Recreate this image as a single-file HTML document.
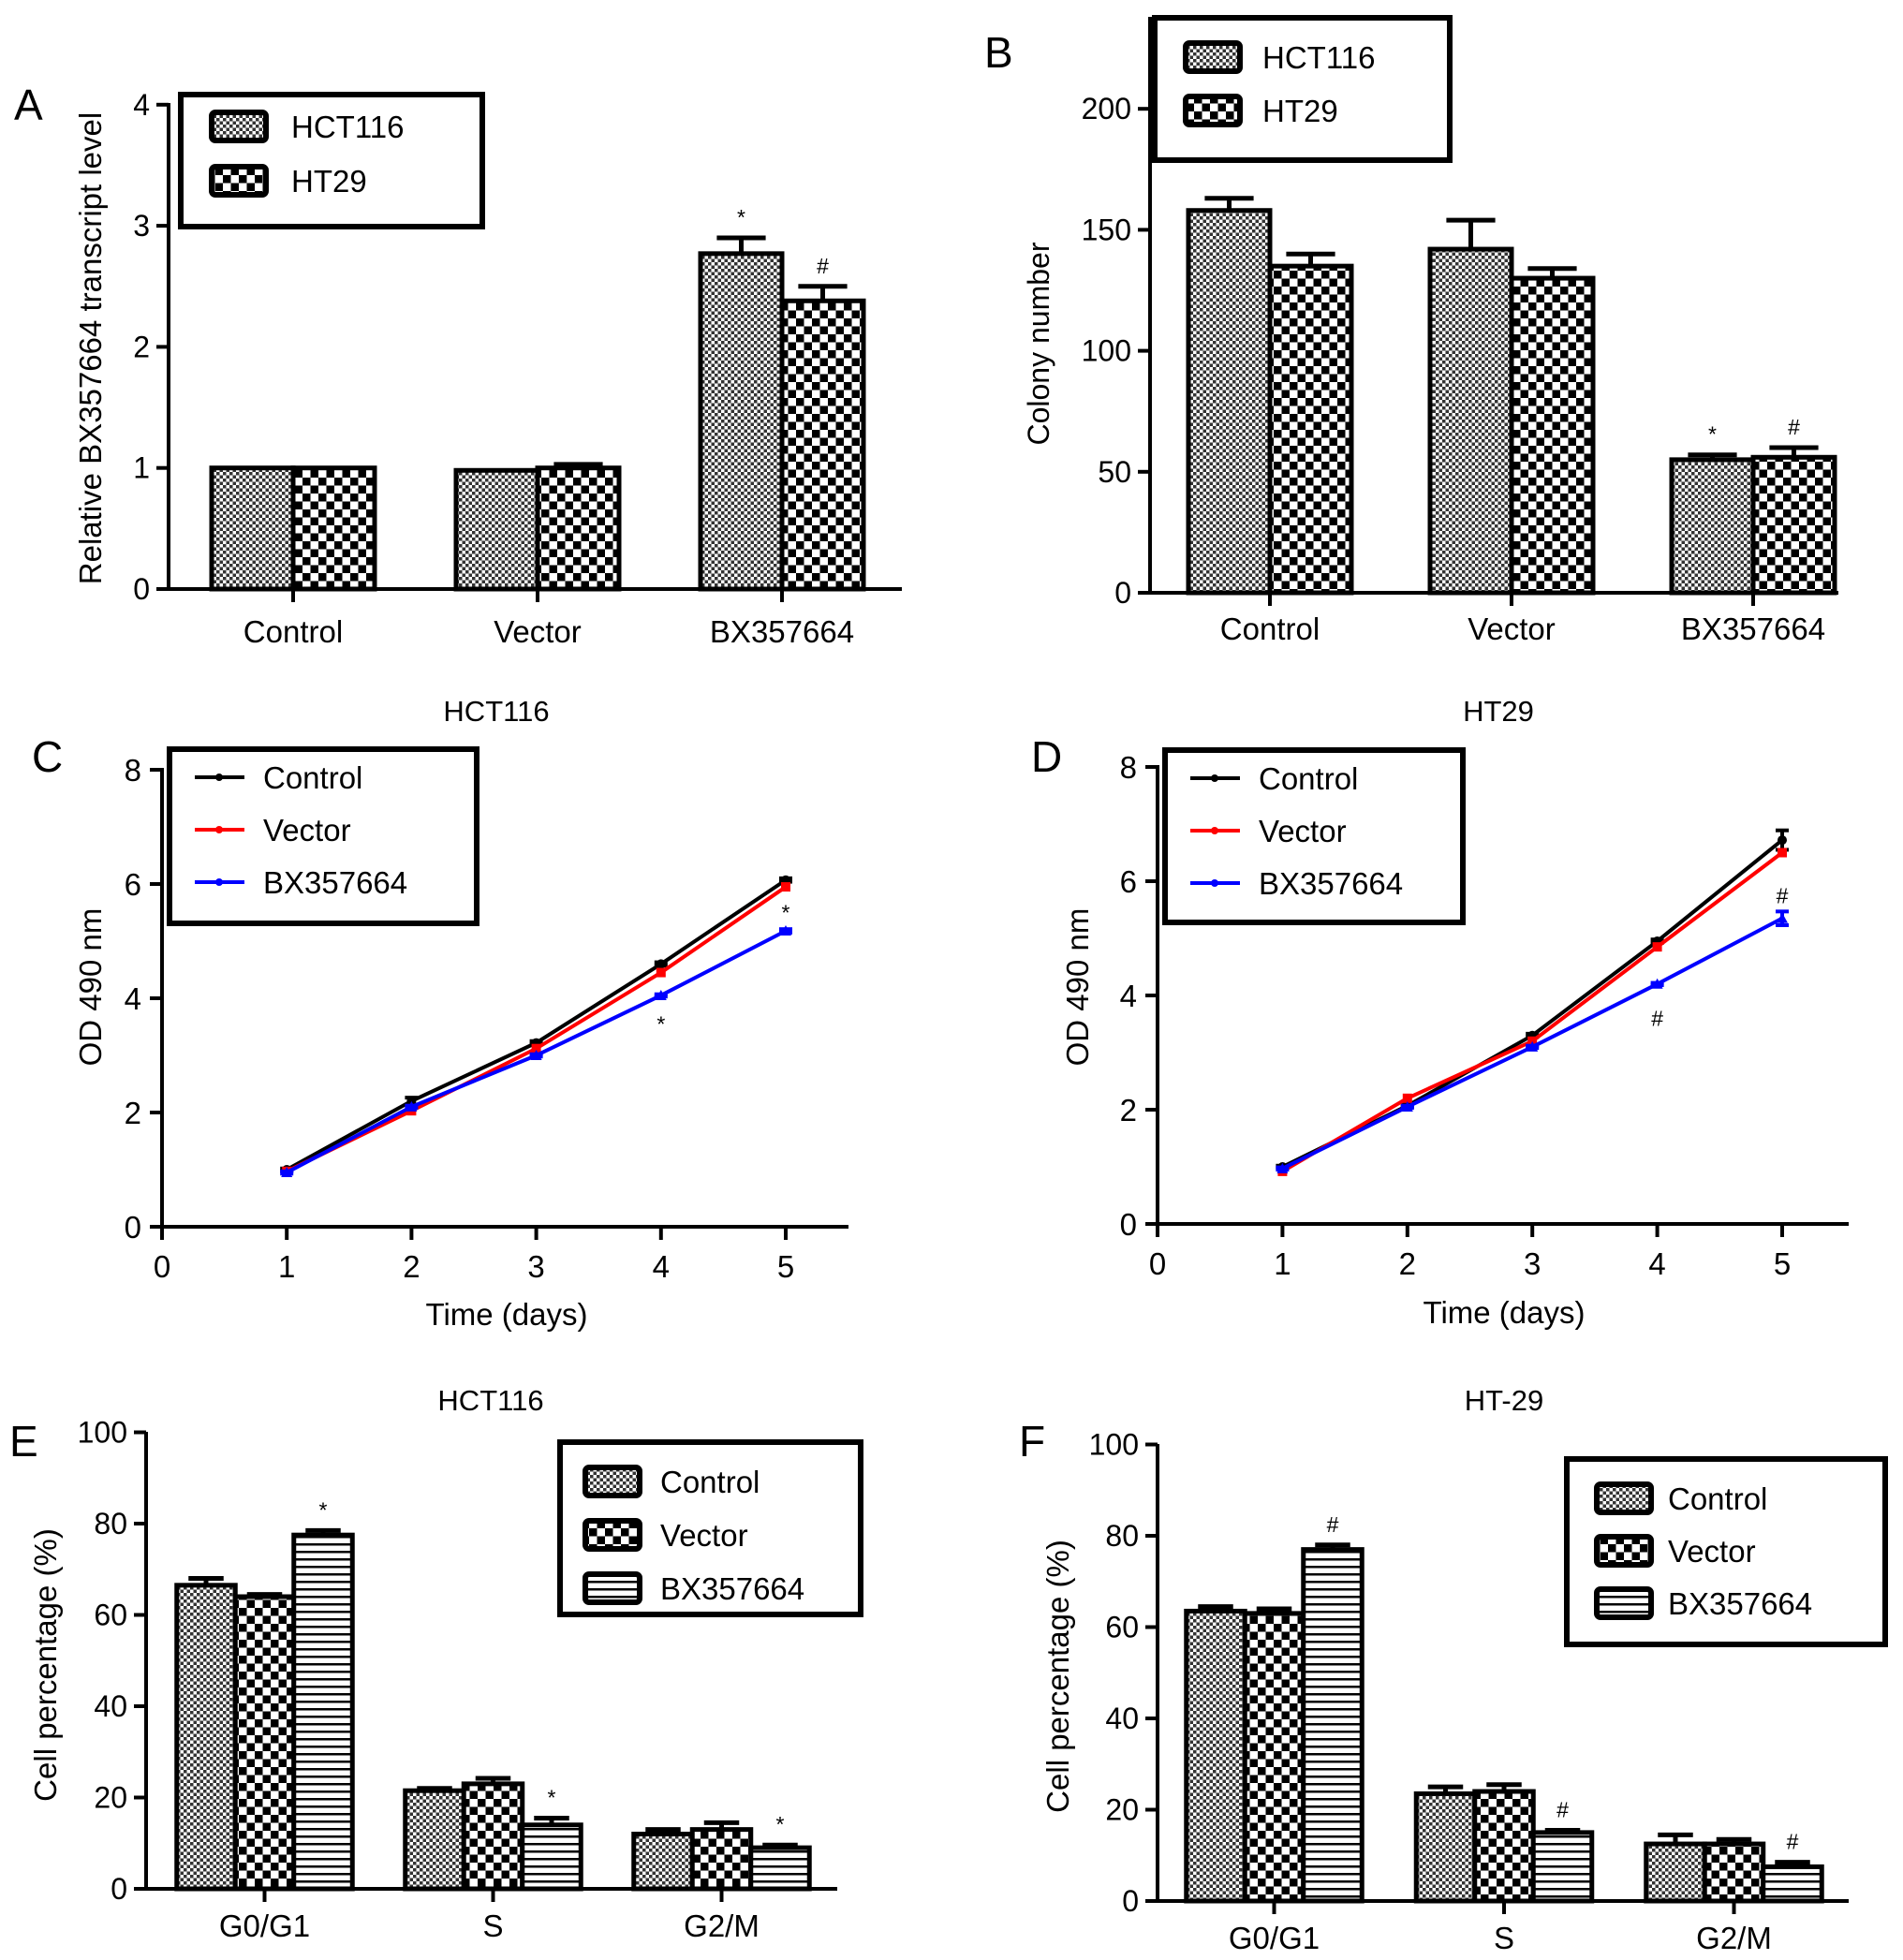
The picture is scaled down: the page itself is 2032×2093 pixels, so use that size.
<!DOCTYPE html>
<html><head><meta charset="utf-8">
<style>
html,body{margin:0;padding:0;background:#fff;}
svg{display:block;font-family:"Liberation Sans",Arial,sans-serif;}
</style></head>
<body>
<svg id="fig" width="2032" height="2093" viewBox="0 0 2032 2093" xmlns="http://www.w3.org/2000/svg">
<defs>
<pattern id="pFine" patternUnits="userSpaceOnUse" width="7" height="7">
<rect width="7" height="7" fill="#fff"/><rect width="3.5" height="3.5" fill="#333"/><rect x="3.5" y="3.5" width="3.5" height="3.5" fill="#333"/>
</pattern>
<pattern id="pCoarse" patternUnits="userSpaceOnUse" width="17" height="17">
<rect width="17" height="17" fill="#fff"/><rect width="8.5" height="8.5" fill="#000"/><rect x="8.5" y="8.5" width="8.5" height="8.5" fill="#000"/>
</pattern>
<pattern id="pStripe" patternUnits="userSpaceOnUse" width="8" height="8">
<rect width="8" height="8" fill="#fff"/><rect y="0" width="8" height="2.5" fill="#000"/>
</pattern>
</defs>
</svg>
<script>
// ---------- Panel A data ----------
const A_categories = ['Control','Vector','BX357664'];
const A_hct = [1.0, 0.98, 2.77];
const A_hct_err = [0.0, 0.0, 0.13];
const A_ht = [1.0, 1.0, 2.38];
const A_ht_err = [0.0, 0.03, 0.12];
const A_ticks = [0,1,2,3,4];
const A_marks_hct = ['', '', '*'];
const A_marks_ht = ['', '', '#'];
// ---------- Panel B data ----------
const B_categories = ['Control','Vector','BX357664'];
const B_hct = [158, 142, 55];
const B_hct_err = [5, 12, 2];
const B_ht = [135, 130, 56];
const B_ht_err = [5, 4, 4];
const B_ticks = [0,50,100,150,200];
const B_marks_hct = ['', '', '*'];
const B_marks_ht = ['', '', '#'];
// ---------- Panel C data ----------
const C_days = [1,2,3,4,5];
const C_control = [1.0, 2.2, 3.22, 4.6, 6.07];
const C_vector = [0.97, 2.03, 3.12, 4.45, 5.95];
const C_bx = [0.95, 2.1, 3.0, 4.05, 5.18];
const C_control_err = [0.02, 0.06, 0.03, 0.03, 0.03];
const C_bx_err = [0.02, 0.02, 0.02, 0.02, 0.03];
const C_xticks = [0,1,2,3,4,5];
const C_yticks = [0,2,4,6,8];
// ---------- Panel D data ----------
const D_days = [1,2,3,4,5];
const D_control = [1.0, 2.07, 3.3, 4.95, 6.72];
const D_vector = [0.92, 2.2, 3.2, 4.85, 6.5];
const D_bx = [0.97, 2.05, 3.1, 4.2, 5.35];
const D_control_err = [0.02, 0.02, 0.03, 0.03, 0.17];
const D_bx_err = [0.02, 0.02, 0.02, 0.02, 0.12];
const D_xticks = [0,1,2,3,4,5];
const D_yticks = [0,2,4,6,8];
// ---------- Panel E data ----------
const E_categories = ['G0/G1','S','G2/M'];
const E_control = [66.5, 21.5, 12];
const E_control_err = [1.5, 0.5, 1];
const E_vector = [64, 23, 13];
const E_vector_err = [0.5, 1.2, 1.5];
const E_bx = [77.5, 14, 9];
const E_bx_err = [1, 1.5, 0.6];
const E_ticks = [0,20,40,60,80,100];
const E_marks = ['*','*','*'];
// ---------- Panel F data ----------
const F_categories = ['G0/G1','S','G2/M'];
const F_control = [63.5, 23.5, 12.5];
const F_control_err = [1, 1.5, 2];
const F_vector = [63, 24, 12.5];
const F_vector_err = [1, 1.5, 1];
const F_bx = [77, 15, 7.5];
const F_bx_err = [1, 0.5, 1];
const F_ticks = [0,20,40,60,80,100];
const F_marks = ['#','#','#'];

const NS = 'http://www.w3.org/2000/svg';
const svg = document.getElementById('fig');
function el(tag, attrs, parent){
  const e = document.createElementNS(NS, tag);
  for (const k in attrs) e.setAttribute(k, attrs[k]);
  (parent||svg).appendChild(e);
  return e;
}
function txt(str, attrs, parent){
  const t = el('text', attrs, parent);
  t.textContent = str;
  return t;
}

function barChart(c){
  const g = el('g', {});
  
  
  const yS = v => c.y0 - v * c.ppu;
  const xC = i => c.cx0 + i * c.step;
  const n = c.series.length;
  c.series.forEach((s, j) => {
    s.vals.forEach((v, i) => {
      const left = xC(i) + (j - n/2) * c.barW;
      const top = yS(v);
      const r = el('rect', {x:left, y:top, width:c.barW, height:c.y0-top, fill:'url(#'+s.fill+')', stroke:'#000', 'stroke-width':5}, g);
      
      
      const e = s.errs[i];
      const cx = left + c.barW/2;
      if (e > 0) {
        const eg = el('g', {stroke:'#000', 'stroke-width':5}, g);
        
        
        el('line', {x1:cx, x2:cx, y1:top, y2:yS(v+e)}, eg);
        el('line', {x1:cx-c.barW*0.3, x2:cx+c.barW*0.3, y1:yS(v+e), y2:yS(v+e)}, eg);
      }
      if (s.marks && s.marks[i]) {
        const m = txt(s.marks[i], {x:cx, y:yS(v+e)-14, 'font-size':23, 'text-anchor':'middle'}, g);
        
        
      }
    });
  });
  const ax = el('g', {stroke:'#000', 'stroke-width':4}, g);
  
  
  el('line', {x1:c.axisX, x2:c.axisX, y1:c.axisTop, y2:c.y0+2}, ax);
  el('line', {x1:c.axisX-2, x2:c.xEnd, y1:c.y0, y2:c.y0}, ax);
  c.ticks.forEach(t => {
    el('line', {x1:c.axisX-13, x2:c.axisX, y1:yS(t), y2:yS(t)}, ax);
    const l = txt(String(t), {x:c.axisX-20, y:yS(t)+11, 'font-size':32, 'text-anchor':'end', stroke:'none'}, g);
    
    
  });
  c.cats.forEach((cat, i) => {
    el('line', {x1:xC(i), x2:xC(i), y1:c.y0, y2:c.y0+14}, ax);
    const l = txt(cat, {x:xC(i), y:c.catY, 'font-size':33, 'text-anchor':'middle'}, g);
    
    
  });
  const yl = txt(c.ylabel, {x:0, y:0, 'font-size':c.ylabelSize||32, 'text-anchor':'middle', transform:'translate('+c.ylabelX+','+c.ylabelY+') rotate(-90)'}, g);
  
  
  const L = c.legend;
  const lg = el('g', {}, g);
  
  
  el('rect', {x:L.x, y:L.y, width:L.w, height:L.h, fill:'#fff', stroke:'#000', 'stroke-width':6}, lg);
  c.series.forEach((s, j) => {
    const yy = L.y + L.first + j*L.gap;
    const eg = el('g', {}, lg);
    
    
    el('rect', {x:L.x+L.sx, y:yy-15, width:58, height:30, rx:4, fill:'url(#'+s.fill+')', stroke:'#000', 'stroke-width':6}, eg);
    txt(s.label, {x:L.x+L.tx, y:yy+12, 'font-size':33}, eg);
  });
  if (c.title) {
    const t = txt(c.title, {x:c.titleX, y:c.titleY, 'font-size':31, 'text-anchor':'middle'}, g);
    
    
  }
  const p = txt(c.letter, {x:c.letterX, y:c.letterY, 'font-size':46}, g);
  
  
}

function lineChart(c){
  const g = el('g', {});
  
  
  const xS = d => c.x0 + d * c.ppd;
  const yS = v => c.y0 - v * c.ppu;
  const ax = el('g', {stroke:'#000', 'stroke-width':4}, g);
  
  
  el('line', {x1:c.x0, x2:c.x0, y1:yS(8)-2, y2:c.y0+14}, ax);
  el('line', {x1:c.x0-2, x2:c.xEnd, y1:c.y0, y2:c.y0}, ax);
  c.yticks.forEach(t => {
    el('line', {x1:c.x0-13, x2:c.x0, y1:yS(t), y2:yS(t)}, ax);
    const l = txt(String(t), {x:c.x0-22, y:yS(t)+12, 'font-size':33, 'text-anchor':'end', stroke:'none'}, g);
    
    
  });
  c.xticks.forEach(t => {
    el('line', {x1:xS(t), x2:xS(t), y1:c.y0, y2:c.y0+14}, ax);
    const l = txt(String(t), {x:xS(t), y:c.y0+54, 'font-size':33, 'text-anchor':'middle', stroke:'none'}, g);
    
    
  });
  c.series.forEach(s => {
    const sg = el('g', {}, g);
    
    
    const pts = c.days.map((d,i) => xS(d)+','+yS(s.vals[i])).join(' ');
    el('polyline', {points:pts, fill:'none', stroke:s.color, 'stroke-width':4}, sg);
    c.days.forEach((d,i) => {
      const x = xS(d), y = yS(s.vals[i]);
      if (s.errs) {
        const e = s.errs[i];
        el('line', {x1:x, x2:x, y1:yS(s.vals[i]-e), y2:yS(s.vals[i]+e), stroke:s.color, 'stroke-width':4}, sg);
        el('line', {x1:x-7, x2:x+7, y1:yS(s.vals[i]+e), y2:yS(s.vals[i]+e), stroke:s.color, 'stroke-width':4}, sg);
        el('line', {x1:x-7, x2:x+7, y1:yS(s.vals[i]-e), y2:yS(s.vals[i]-e), stroke:s.color, 'stroke-width':4}, sg);
      }
      let m;
      if (s.marker === 'circle') m = el('circle', {cx:x, cy:y, r:5, fill:s.color}, sg);
      else if (s.marker === 'square') m = el('rect', {x:x-5, y:y-5, width:10, height:10, fill:s.color}, sg);
      else m = el('polygon', {points:(x)+','+(y-6)+' '+(x-6)+','+(y+5)+' '+(x+6)+','+(y+5), fill:s.color}, sg);
      
      
    });
  });
  c.marks.forEach(mk => {
    const m = txt(mk.t, {x:xS(mk.d), y:yS(mk.v)+8, 'font-size':23, 'text-anchor':'middle'}, g);
    
    
  });
  const L = c.legend;
  const lg = el('g', {}, g);
  
  
  el('rect', {x:L.x, y:L.y, width:L.w, height:L.h, fill:'#fff', stroke:'#000', 'stroke-width':6}, lg);
  c.series.forEach((s, j) => {
    const yy = L.y + 30 + j*56;
    const eg = el('g', {}, lg);
    
    
    el('line', {x1:L.x+27, x2:L.x+80, y1:yy, y2:yy, stroke:s.color, 'stroke-width':4}, eg);
    el('circle', {cx:L.x+53, cy:yy, r:4, fill:s.color}, eg);
    txt(s.label, {x:L.x+100, y:yy+12, 'font-size':33}, eg);
  });
  const t = txt(c.title, {x:c.titleX, y:c.titleY, 'font-size':31, 'text-anchor':'middle'}, g);
  
  
  const xt = txt('Time (days)', {x:c.xlabelX, y:c.xlabelY, 'font-size':33, 'text-anchor':'middle'}, g);
  
  
  const yl = txt('OD 490 nm', {x:0, y:0, 'font-size':33, 'text-anchor':'middle', transform:'translate('+c.ylabelX+','+c.ylabelY+') rotate(-90)'}, g);
  
  
  const p = txt(c.letter, {x:c.letterX, y:c.letterY, 'font-size':46}, g);
  
  
}

barChart({name:'panel-a-chart', axisX:180, y0:629, ppu:129.3, axisTop:110, xEnd:963,
  cx0:313, step:261, barW:87, cats:A_categories, ticks:A_ticks, catY:686,
  ylabel:'Relative BX357664 transcript level', ylabelX:108, ylabelY:372, ylabelSize:33,
  series:[{key:'hct116', label:'HCT116', vals:A_hct, errs:A_hct_err, fill:'pFine', marks:A_marks_hct},
          {key:'ht29', label:'HT29', vals:A_ht, errs:A_ht_err, fill:'pCoarse', marks:A_marks_ht}],
  legend:{x:193, y:101, w:322, h:141, first:34, gap:58, sx:33, tx:118},
  letter:'A', letterX:15, letterY:128});

barChart({name:'panel-b-chart', axisX:1228, y0:633, ppu:129.2/50, axisTop:18, xEnd:1963,
  cx0:1356, step:258, barW:87, cats:B_categories, ticks:B_ticks, catY:683,
  ylabel:'Colony number', ylabelX:1120, ylabelY:367, ylabelSize:32,
  series:[{key:'hct116', label:'HCT116', vals:B_hct, errs:B_hct_err, fill:'pFine', marks:B_marks_hct},
          {key:'ht29', label:'HT29', vals:B_ht, errs:B_ht_err, fill:'pCoarse', marks:B_marks_ht}],
  legend:{x:1233, y:19, w:315, h:152, first:42, gap:57, sx:33, tx:115},
  letter:'B', letterX:1051, letterY:72});

lineChart({name:'panel-c-chart', x0:173, ppd:133.2, y0:1310, ppu:61, xEnd:906,
  days:C_days, xticks:C_xticks, yticks:C_yticks,
  series:[{key:'control', label:'Control', color:'#000', marker:'circle', vals:C_control, errs:C_control_err},
          {key:'vector', label:'Vector', color:'#f00', marker:'square', vals:C_vector},
          {key:'bx357664', label:'BX357664', color:'#00f', marker:'triangle', vals:C_bx, errs:C_bx_err}],
  marks:[{t:'*', d:4, v:3.55}, {t:'*', d:5, v:5.5}],
  legend:{x:181, y:800, w:328, h:186},
  title:'HCT116', titleX:530, titleY:770, xlabelX:541, xlabelY:1415, ylabelX:108, ylabelY:1054,
  letter:'C', letterX:34, letterY:824});

lineChart({name:'panel-d-chart', x0:1236, ppd:133.4, y0:1307, ppu:61, xEnd:1974,
  days:D_days, xticks:D_xticks, yticks:D_yticks,
  series:[{key:'control', label:'Control', color:'#000', marker:'circle', vals:D_control, errs:D_control_err},
          {key:'vector', label:'Vector', color:'#f00', marker:'square', vals:D_vector},
          {key:'bx357664', label:'BX357664', color:'#00f', marker:'triangle', vals:D_bx, errs:D_bx_err}],
  marks:[{t:'#', d:4, v:3.6}, {t:'#', d:5, v:5.75}],
  legend:{x:1244, y:801, w:318, h:184},
  title:'HT29', titleX:1600, titleY:770, xlabelX:1606, xlabelY:1413, ylabelX:1162, ylabelY:1054,
  letter:'D', letterX:1101, letterY:824});

barChart({name:'panel-e-chart', axisX:156, y0:2017, ppu:4.875, axisTop:1529, xEnd:894,
  cx0:282.5, step:244, barW:62.5, cats:E_categories, ticks:E_ticks, catY:2068,
  ylabel:'Cell percentage (%)', ylabelX:60, ylabelY:1778, ylabelSize:33,
  series:[{key:'control', label:'Control', vals:E_control, errs:E_control_err, fill:'pFine'},
          {key:'vector', label:'Vector', vals:E_vector, errs:E_vector_err, fill:'pCoarse'},
          {key:'bx357664', label:'BX357664', vals:E_bx, errs:E_bx_err, fill:'pStripe', marks:E_marks}],
  legend:{x:598, y:1540, w:321, h:184, first:42, gap:57, sx:27, tx:107},
  titleX:524, titleY:1506, title:'HCT116',
  letter:'E', letterX:10, letterY:1555});

barChart({name:'panel-f-chart', axisX:1236, y0:2030, ppu:4.875, axisTop:1542, xEnd:1974,
  cx0:1360.5, step:245.5, barW:62.5, cats:F_categories, ticks:F_ticks, catY:2081,
  ylabel:'Cell percentage (%)', ylabelX:1141, ylabelY:1790, ylabelSize:33,
  series:[{key:'control', label:'Control', vals:F_control, errs:F_control_err, fill:'pFine'},
          {key:'vector', label:'Vector', vals:F_vector, errs:F_vector_err, fill:'pCoarse'},
          {key:'bx357664', label:'BX357664', vals:F_bx, errs:F_bx_err, fill:'pStripe', marks:F_marks}],
  legend:{x:1673, y:1558, w:340, h:198, first:42, gap:56, sx:32, tx:108},
  titleX:1606, titleY:1506, title:'HT-29',
  letter:'F', letterX:1088, letterY:1555});
</script>
</body></html>
